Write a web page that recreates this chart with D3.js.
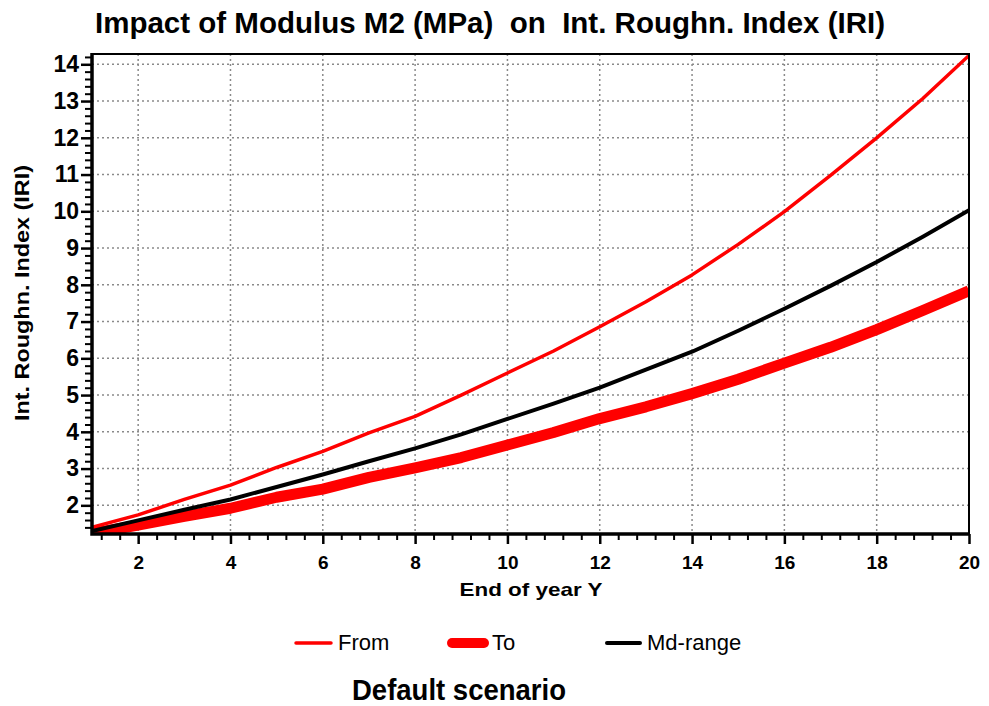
<!DOCTYPE html>
<html>
<head>
<script src="https://d3js.org/d3.v7.js"></script>
<style>
    body{ margin: 0; background: #fff; }
    text{ font-family: 'Liberation Sans', Arial, sans-serif; white-space: pre; }
    .grid line{ stroke: #8a8a8a; stroke-width: 1.5; stroke-dasharray: 2,3; }
</style>
</head>
<body>
<div class="graph">
<script>
    // values
    const years = [1, 2, 3, 4, 5, 6, 7, 8, 9, 10, 11, 12, 13, 14, 15, 16, 17, 18, 19, 20]
    const fromIRI = [1.40, 1.74, 2.16, 2.55, 3.03, 3.47, 3.97, 4.42, 5.00, 5.60, 6.20, 6.86, 7.54, 8.27, 9.10, 9.99, 10.98, 12.00, 13.07, 14.24]
    const toIRI = [1.24, 1.46, 1.70, 1.92, 2.22, 2.44, 2.76, 3.02, 3.30, 3.64, 3.98, 4.36, 4.68, 5.04, 5.43, 5.87, 6.30, 6.78, 7.30, 7.84]
    const midIRI = [1.30, 1.59, 1.88, 2.16, 2.50, 2.84, 3.20, 3.55, 3.93, 4.35, 4.77, 5.20, 5.69, 6.18, 6.75, 7.35, 7.97, 8.62, 9.31, 10.03]
    const xTicks = [2, 4, 6, 8, 10, 12, 14, 16, 18, 20]
    const yTicks = [2, 3, 4, 5, 6, 7, 8, 9, 10, 11, 12, 13, 14]
    const legendLabels = ['From', 'To', 'Md-range']

    const w = 989
    const h = 706
    const pLeft = 92, pRight = 969, pTop = 54, pBottom = 534

    const x = d3.scaleLinear().domain([1, 20]).range([pLeft, pRight])
    const y = d3.scaleLinear().domain([1.22, 14.28]).range([pBottom, pTop])

    const xMinor = d3.range(1.2, 20, 0.4).filter(v => Math.abs(v / 2 - Math.round(v / 2)) > 0.01)
    const yMinor = d3.range(1.4, 14.28, 0.2).filter(v => Math.abs(v - Math.round(v)) > 0.01)

    const svg = d3.select('.graph')
                .append('svg')
                .attr('width', w)
                .attr('height', h)

    svg.append('defs').append('clipPath')
        .attr('id', 'plot')
        .append('rect')
        .attr('x', pLeft).attr('y', pTop)
        .attr('width', pRight - pLeft).attr('height', pBottom - pTop)

    // grid
    const grid = svg.append('g').attr('class', 'grid')
    grid.selectAll('.gx')
        .data(xTicks.filter(d => d < 20))
        .enter().append('line')
        .attr('x1', d => x(d)).attr('x2', d => x(d))
        .attr('y1', pTop).attr('y2', pBottom)
    grid.selectAll('.gy')
        .data(yTicks)
        .enter().append('line')
        .attr('y1', d => y(d)).attr('y2', d => y(d))
        .attr('x1', pLeft).attr('x2', pRight)

    // series
    const line = d3.line()
                .x((d, i) => x(years[i]))
                .y(d => y(d))

    const series = [
        {values: toIRI, colour: '#ff0000', width: 11},
        {values: fromIRI, colour: '#ff0000', width: 3.5},
        {values: midIRI, colour: '#000', width: 4}
    ]

    svg.append('g')
        .attr('clip-path', 'url(#plot)')
        .selectAll('path')
        .data(series)
        .enter().append('path')
        .attr('d', d => line(d.values))
        .attr('fill', 'none')
        .attr('stroke', d => d.colour)
        .attr('stroke-width', d => d.width)
        .attr('stroke-linejoin', 'round')

    // frame
    svg.append('path')
        .attr('d', `M${pLeft},${pTop}H${pRight}V${pBottom}`)
        .attr('fill', 'none')
        .attr('stroke', '#000')
        .attr('stroke-width', 2)

    // x axis
    const xAxis = svg.append('g')
                    .attr('transform', `translate(0,${pBottom})`)
                    .call(d3.axisBottom(x).tickValues(xTicks).tickSize(10).tickPadding(12).tickFormat(d3.format('d')))
    xAxis.selectAll('text').style('font-size', '19px').style('font-weight', 'bold')
    xAxis.selectAll('line').attr('stroke-width', 2.5)
    xAxis.select('.domain').remove()

    const xAxisMinor = svg.append('g')
                    .attr('transform', `translate(0,${pBottom})`)
                    .call(d3.axisBottom(x).tickValues(xMinor).tickSize(6).tickFormat(''))
    xAxisMinor.selectAll('line').attr('stroke-width', 2)
    xAxisMinor.select('.domain').remove()

    // y axis
    const yAxis = svg.append('g')
                    .attr('transform', `translate(${pLeft},0)`)
                    .call(d3.axisLeft(y).tickValues(yTicks).tickSize(11).tickPadding(2).tickFormat(d3.format('d')))
    yAxis.selectAll('text').style('font-size', '23px').style('font-weight', 'bold')
    yAxis.selectAll('line').attr('stroke-width', 2.5)
    yAxis.select('.domain').remove()

    const yAxisMinor = svg.append('g')
                    .attr('transform', `translate(${pLeft},0)`)
                    .call(d3.axisLeft(y).tickValues(yMinor).tickSize(7).tickFormat(''))
    yAxisMinor.selectAll('line').attr('stroke-width', 2)
    yAxisMinor.select('.domain').remove()

    svg.append('path')
        .attr('d', `M${pLeft},${pTop - 1}V${pBottom}H${pRight + 1}`)
        .attr('fill', 'none')
        .attr('stroke', '#000')
        .attr('stroke-width', 3.5)

    // titles
    svg.append('text')
        .attr('x', 490).attr('y', 33)
        .attr('text-anchor', 'middle')
        .attr('textLength', 790).attr('lengthAdjust', 'spacingAndGlyphs')
        .style('font-size', '30px').style('font-weight', 'bold')
        .text('Impact of Modulus M2 (MPa)  on  Int. Roughn. Index (IRI)')

    svg.append('text')
        .attr('transform', 'translate(29,293) rotate(-90)')
        .attr('text-anchor', 'middle')
        .attr('textLength', 256).attr('lengthAdjust', 'spacingAndGlyphs')
        .style('font-size', '21px').style('font-weight', 'bold')
        .text('Int. Roughn. Index (IRI)')

    svg.append('text')
        .attr('x', 531).attr('y', 596)
        .attr('text-anchor', 'middle')
        .attr('textLength', 143).attr('lengthAdjust', 'spacingAndGlyphs')
        .style('font-size', '19px').style('font-weight', 'bold')
        .text('End of year Y')

    // legend
    const legendItems = [
        {x1: 296, x2: 331, tx: 338, colour: '#ff0000', width: 3.5},
        {x1: 452, x2: 484, tx: 492, colour: '#ff0000', width: 10},
        {x1: 607, x2: 640, tx: 647, colour: '#000', width: 4}
    ]
    const legend = svg.append('g')
                    .selectAll('g')
                    .data(legendLabels)
                    .enter().append('g')
    legend.append('line')
        .attr('x1', (d, i) => legendItems[i].x1).attr('x2', (d, i) => legendItems[i].x2)
        .attr('y1', 643).attr('y2', 643)
        .attr('stroke', (d, i) => legendItems[i].colour)
        .attr('stroke-width', (d, i) => legendItems[i].width)
        .attr('stroke-linecap', 'round')
    legend.append('text')
        .attr('x', (d, i) => legendItems[i].tx)
        .attr('y', 650)
        .style('font-size', '22px')
        .text(d => d)

    svg.append('text')
        .attr('x', 459).attr('y', 700)
        .attr('text-anchor', 'middle')
        .attr('textLength', 214).attr('lengthAdjust', 'spacingAndGlyphs')
        .style('font-size', '30px').style('font-weight', 'bold')
        .text('Default scenario')
</script>
</div>
</body>
</html>
